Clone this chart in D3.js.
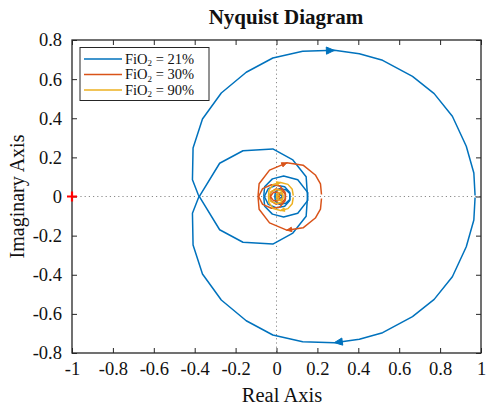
<!DOCTYPE html>
<html><head><meta charset="utf-8">
<script src="https://cdn.jsdelivr.net/npm/d3@7"></script>
<style>body{margin:0;background:#fff}</style>
</head><body><svg id="c" width="486" height="407"></svg>
<script>
// ---- data ----
const xTicks = [-1, -0.8, -0.6, -0.4, -0.2, 0, 0.2, 0.4, 0.6, 0.8, 1];
const yTicks = [-0.8, -0.6, -0.4, -0.2, 0, 0.2, 0.4, 0.6, 0.8];
const xTickLabels = ["-1", "-0.8", "-0.6", "-0.4", "-0.2", "0", "0.2", "0.4", "0.6", "0.8", "1"];
const yTickLabels = ["-0.8", "-0.6", "-0.4", "-0.2", "0", "0.2", "0.4", "0.6", "0.8"];
const seriesLabels = ["21%", "30%", "90%"];
const seriesColors = ["#0072BD", "#D95319", "#EDB120"];
// positive-frequency branch (Re, Im); the negative branch is its mirror image
const fio2_21 = [
  [0.971, -0.005], [0.965, -0.12], [0.928, -0.257], [0.86, -0.41], [0.771, -0.526],
  [0.665, -0.614], [0.519, -0.696], [0.405, -0.73], [0.283, -0.747], [0.128, -0.742],
  [-0.018, -0.708], [-0.148, -0.635], [-0.27, -0.529], [-0.362, -0.396], [-0.408, -0.248],
  [-0.411, -0.086], [-0.383, -0.01], [-0.278, 0.17], [-0.164, 0.234], [-0.018, 0.243],
  [0.08, 0.187], [0.145, 0.101], [0.153, -0.02], [0.104, -0.086], [0.035, -0.105],
  [-0.02, -0.09], [-0.058, -0.05], [-0.062, -0.005], [-0.04, 0.04], [0.0, 0.058],
  [0.04, 0.05], [0.065, 0.02], [0.065, -0.015], [0.045, -0.035], [0.015, -0.04],
  [-0.005, -0.025], [-0.008, -0.003], [0.005, 0.015], [0.02, 0.018], [0.03, 0.005],
  [0.022, -0.008], [0.012, -0.003]
];
const fio2_30 = [
  [0.22, -0.01], [0.215, -0.065], [0.19, -0.11], [0.13, -0.16], [0.05, -0.172],
  [-0.034, -0.135], [-0.085, -0.065], [-0.09, -0.005], [-0.068, 0.04], [-0.025, 0.06],
  [0.015, 0.055], [0.042, 0.022], [0.044, -0.012], [0.022, -0.034], [-0.005, -0.038],
  [-0.027, -0.022], [-0.03, 0.0], [-0.016, 0.02], [0.005, 0.023], [0.016, 0.008],
  [0.01, -0.005], [0.003, -0.003]
];
const fio2_90 = [
  [0.082, -0.005], [0.077, -0.037], [0.056, -0.062], [0.02, -0.072], [-0.016, -0.062],
  [-0.037, -0.031], [-0.039, 0.0], [-0.026, 0.026], [0.0, 0.036], [0.021, 0.031],
  [0.031, 0.01], [0.029, -0.01], [0.015, -0.02], [0.003, -0.015], [0.0, -0.003],
  [0.008, 0.007], [0.015, 0.003]
];
const arrowVertex = [8, 4, 3];   // vertex index where each arrow sits
const arrowSize = [8, 5, 4];
const criticalPoint = [-1, 0];

// ---- layout ----
const svg = d3.select("#c");
const L = 72, R = 481, T = 40, B = 353;
const x = d3.scaleLinear().domain([-1, 1]).range([L, R]);
const y = d3.scaleLinear().domain([-0.8, 0.8]).range([B, T]);
const serif = "'Liberation Serif', 'Times New Roman', serif";
const axisColor = "#262626";

svg.append("rect").attr("width", 486).attr("height", 407).attr("fill", "#fff");
svg.append("defs").append("clipPath").attr("id", "clip")
  .append("rect").attr("x", L).attr("y", T).attr("width", R - L).attr("height", B - T);

// dotted zero lines
const g = svg.append("g").attr("clip-path", "url(#clip)");
g.append("line").attr("x1", x(0)).attr("x2", x(0)).attr("y1", T).attr("y2", B)
  .attr("stroke", "#8a8a8a").attr("stroke-width", 1).attr("stroke-dasharray", "1.2,3");
g.append("line").attr("x1", L).attr("x2", R).attr("y1", y(0)).attr("y2", y(0))
  .attr("stroke", "#8a8a8a").attr("stroke-width", 1).attr("stroke-dasharray", "1.2,3");

const line = d3.line().x(d => x(d[0])).y(d => y(d[1]));
const allSeries = [fio2_21, fio2_30, fio2_90];

function arrow(tip, from, size, color) {
  const tx = x(tip[0]), ty = y(tip[1]);
  const fx = x(from[0]), fy = y(from[1]);
  const a = Math.atan2(ty - fy, tx - fx);
  const w = size * 0.45;
  const bx = tx - size * Math.cos(a), by = ty - size * Math.sin(a);
  const p1 = [bx + w * Math.sin(a), by - w * Math.cos(a)];
  const p2 = [bx - w * Math.sin(a), by + w * Math.cos(a)];
  g.append("path").attr("d", `M${tx},${ty}L${p1[0]},${p1[1]}L${p2[0]},${p2[1]}Z`)
    .attr("fill", color).attr("stroke", color).attr("stroke-width", 1).attr("stroke-linejoin", "miter");
}

allSeries.forEach((pts, i) => {
  const mirror = pts.map(d => [d[0], -d[1]]);
  const c = seriesColors[i];
  g.append("path").datum(pts).attr("d", line).attr("fill", "none")
    .attr("stroke", c).attr("stroke-width", 1.5).attr("stroke-linejoin", "round");
  g.append("path").datum(mirror).attr("d", line).attr("fill", "none")
    .attr("stroke", c).attr("stroke-width", 1.5).attr("stroke-linejoin", "round");
  const k = arrowVertex[i];
  arrow(pts[k], pts[k - 1], arrowSize[i], c);
  arrow(mirror[k], mirror[k + 1], arrowSize[i], c);
});

// axes box and ticks (inside, all four sides)
const axB = svg.append("g").attr("transform", `translate(0,${B})`)
  .call(d3.axisBottom(x).tickValues(xTicks).tickSize(-5).tickPadding(9)
    .tickFormat((d, i) => xTickLabels[i]));
const axT = svg.append("g").attr("transform", `translate(0,${T})`)
  .call(d3.axisTop(x).tickValues(xTicks).tickSize(-5).tickFormat(""));
const axL = svg.append("g").attr("transform", `translate(${L},0)`)
  .call(d3.axisLeft(y).tickValues(yTicks).tickSize(-5).tickPadding(10)
    .tickFormat((d, i) => yTickLabels[i]));
const axR = svg.append("g").attr("transform", `translate(${R},0)`)
  .call(d3.axisRight(y).tickValues(yTicks).tickSize(-5).tickFormat(""));
[axB, axT, axL, axR].forEach(a => {
  a.select(".domain").attr("d", null);
  a.selectAll(".tick line").attr("stroke", axisColor).attr("stroke-width", 1);
  a.selectAll("text").attr("font-family", serif).attr("font-size", 18.5).attr("fill", "#111");
});
svg.append("rect").attr("x", L).attr("y", T).attr("width", R - L).attr("height", B - T)
  .attr("fill", "none").attr("stroke", axisColor).attr("stroke-width", 1.3);

// critical point marker
svg.append("path")
  .attr("d", `M${x(criticalPoint[0]) - 5},${y(criticalPoint[1])}h10M${x(criticalPoint[0])},${y(criticalPoint[1]) - 5}v10`)
  .attr("stroke", "#ff0000").attr("stroke-width", 2.2);

// title and axis labels
svg.append("text").attr("x", 286).attr("y", 24).attr("text-anchor", "middle")
  .attr("font-family", serif).attr("font-weight", "bold").attr("font-size", 21).attr("fill", "#111")
  .text("Nyquist Diagram");
svg.append("text").attr("x", 282).attr("y", 402).attr("text-anchor", "middle")
  .attr("font-family", serif).attr("font-size", 20.5).attr("fill", "#111").text("Real Axis");
svg.append("text").attr("transform", `translate(24,${(T + B) / 2}) rotate(-90)`).attr("text-anchor", "middle")
  .attr("font-family", serif).attr("font-size", 20).attr("fill", "#111").text("Imaginary Axis");

// legend
const lg = svg.append("g");
lg.append("rect").attr("x", 80).attr("y", 47.5).attr("width", 129).attr("height", 53)
  .attr("fill", "#fff").attr("stroke", axisColor).attr("stroke-width", 1);
seriesLabels.forEach((s, i) => {
  const yy = 59 + i * 15.5;
  lg.append("line").attr("x1", 84).attr("x2", 122).attr("y1", yy).attr("y2", yy)
    .attr("stroke", seriesColors[i]).attr("stroke-width", 1.3);
  const t = lg.append("text").attr("x", 125).attr("y", yy + 4.5)
    .attr("font-family", serif).attr("font-size", 14.5).attr("fill", "#111");
  t.append("tspan").text("FiO");
  t.append("tspan").attr("font-size", 9).attr("dy", 2.5).text("2");
  t.append("tspan").attr("dy", -2.5).text(" = " + s);
});
</script></body></html>
